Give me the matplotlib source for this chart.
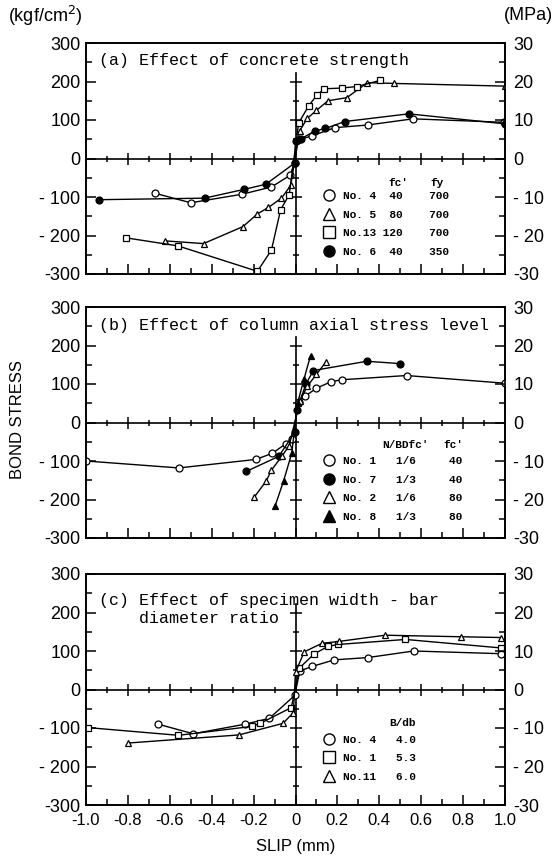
import numpy as np
import matplotlib
matplotlib.use("Agg")
import matplotlib.pyplot as plt
from matplotlib.lines import Line2D
from matplotlib.ticker import MultipleLocator

plt.rcParams['font.family'] = ['Liberation Sans', 'DejaVu Sans']
MONO = 'Liberation Mono'

# ---- (a) effect of concrete strength ----
a_no4_x = [-0.673, -0.50, -0.257, -0.115, -0.027, -0.004, 0.01, 0.08, 0.187, 0.345, 0.56, 0.995]
a_no4_y = [-90, -115, -93, -74, -44, -12, 48, 59, 80, 87, 103, 94]
a_no5_x = [-0.623, -0.439, -0.251, -0.182, -0.129, -0.067, -0.023, 0.02, 0.056, 0.10, 0.155, 0.245, 0.343, 0.47, 1.0]
a_no5_y = [-214, -221, -177, -144, -127, -103, -70, 72, 104, 125, 150, 158, 197, 195, 188]
a_no13_x = [-0.81, -0.561, -0.182, -0.115, -0.071, -0.03, 0.015, 0.063, 0.103, 0.137, 0.22, 0.294, 0.405]
a_no13_y = [-206, -227, -293, -238, -133, -94, 92, 137, 165, 181, 183, 187, 203]
a_no6_x = [-0.94, -0.434, -0.244, -0.142, -0.004, 0.0, 0.025, 0.095, 0.143, 0.235, 0.54, 1.0]
a_no6_y = [-107, -103, -80, -67, -12, 46, 51, 72, 78, 96, 116, 90]

# ---- (b) effect of column axial stress level ----
b_no1_x = [-1.0, -0.557, -0.19, -0.11, -0.046, -0.015, 0.015, 0.045, 0.10, 0.17, 0.22, 0.53, 1.0]
b_no1_y = [-100, -118, -96, -80, -55, -43, 52, 68, 89, 106, 111, 122, 102]
b_no7_x = [-0.235, -0.08, -0.003, 0.005, 0.05, 0.085, 0.34, 0.5]
b_no7_y = [-127, -88, -25, 32, 100, 135, 159, 153]
b_no2_x = [-0.197, -0.14, -0.115, -0.063, -0.03, 0.02, 0.057, 0.10, 0.145]
b_no2_y = [-194, -152, -124, -86, -60, 55, 95, 125, 157]
b_no8_x = [-0.098, -0.057, -0.018, 0.01, 0.04, 0.072]
b_no8_y = [-218, -152, -80, 50, 112, 174]

# ---- (c) effect of specimen width - bar diameter ratio ----
c_no4_x = [-0.656, -0.488, -0.24, -0.125, -0.003, 0.02, 0.08, 0.185, 0.346, 0.564, 0.98]
c_no4_y = [-90, -115, -90, -75, -15, 48, 60, 77, 83, 100, 93]
c_no1_x = [-0.99, -0.559, -0.209, -0.169, -0.02, 0.019, 0.088, 0.155, 0.204, 0.525, 0.98]
c_no1_y = [-99, -119, -96, -88, -47, 56, 92, 112, 117, 130, 108]
c_no11_x = [-0.798, -0.27, -0.06, -0.01, 0.0, 0.042, 0.127, 0.209, 0.428, 0.79, 0.98]
c_no11_y = [-139, -118, -88, -60, 45, 98, 120, 125, 141, 137, 135]

yticks = [-300, -200, -100, 0, 100, 200, 300]
ylabels = ['-300', '- 200', '- 100', '0', '100', '200', '300']
mticks = [-30, -20, -10, 0, 10, 20, 30]
mlabels = ['-30', '- 20', '- 10', '0', '10', '20', '30']
xticks = [-1.0, -0.8, -0.6, -0.4, -0.2, 0, 0.2, 0.4, 0.6, 0.8, 1.0]
xlabels = ['-1.0', '-0.8', '-0.6', '-0.4', '-0.2', '0', '0.2', '0.4', '0.6', '0.8', '1.0']

fig = plt.figure(figsize=(5.58, 8.60), dpi=100)
L, W, H = 86 / 558, 419 / 558, 231 / 860
bottoms = [586 / 860, 322 / 860, 55 / 860]


def setup(ax, xlab):
    ax.set_xlim(-1, 1)
    ax.set_ylim(-300, 300)
    for s in ax.spines.values():
        s.set_linewidth(1.2)
    ax.set_yticks(yticks)
    ax.set_yticklabels(ylabels, fontsize=13)
    ax.yaxis.set_minor_locator(MultipleLocator(50))
    ax.set_xticks(xticks)
    ax.xaxis.set_minor_locator(MultipleLocator(0.1))
    if xlab:
        ax.set_xticklabels(xlabels, fontsize=12)
    else:
        ax.set_xticklabels([])
    ax.tick_params(which='major', direction='in', length=7, width=1.1, right=False, top=False, pad=4)
    ax.tick_params(which='minor', direction='in', length=4, width=1.1, right=False, top=False)
    ax.tick_params(axis='x', pad=6)
    ax2 = ax.twinx()
    ax2.set_ylim(-30, 30)
    ax2.set_yticks(mticks)
    ax2.set_yticklabels(mlabels, fontsize=13)
    ax2.yaxis.set_minor_locator(MultipleLocator(5))
    ax2.tick_params(which='major', direction='in', length=7, width=1.1, pad=6)
    ax2.tick_params(which='minor', direction='in', length=4, width=1.1)
    for s in ax2.spines.values():
        s.set_linewidth(1.2)
    # cross-hair with ticks
    ax.axhline(0, color='k', lw=1.2, zorder=1)
    ax.axvline(0, ymax=0.87, color='k', lw=1.2, zorder=1)
    gx = np.round(np.arange(-0.9, 0.95, 0.1), 1)
    gx = gx[gx != 0]
    big = np.isclose(np.round(gx / 0.2) * 0.2, gx)
    ax.plot(gx[big], np.zeros(big.sum()), ls='none', marker='|', ms=9, mew=1.1, color='k', zorder=1)
    ax.plot(gx[~big], np.zeros((~big).sum()), ls='none', marker='|', ms=4.5, mew=1.1, color='k', zorder=1)
    gy = np.arange(-250, 201, 50)
    gy = gy[gy != 0]
    bigy = gy % 100 == 0
    ax.plot(np.zeros(bigy.sum()), gy[bigy], ls='none', marker='_', ms=9, mew=1.1, color='k', zorder=1)
    ax.plot(np.zeros((~bigy).sum()), gy[~bigy], ls='none', marker='_', ms=4.5, mew=1.1, color='k', zorder=1)
    return ax2


def series(ax, x, y, m, filled):
    ax.plot(x, y, '-', color='k', lw=1.0, marker=m, ms=5, mfc='k' if filled else 'white',
            mec='k', mew=0.9, zorder=3)


def table(ax, rows, anchor):
    hs = [Line2D([], [], ls='none', marker=m, ms=8, mfc='k' if f else 'white', mec='k', mew=1.0)
          for m, f, _ in rows]
    labs = [t for _, _, t in rows]
    ax.legend(hs, labs, loc='upper left', bbox_to_anchor=anchor, frameon=False,
              prop={'family': MONO, 'size': 8, 'weight': 'bold'}, handlelength=1.0,
              handletextpad=0.75, labelspacing=0.78, borderpad=0, borderaxespad=0)


def head(ax, x, y, s):
    ax.text(x, y, s, family=MONO, fontsize=8, weight='bold', ha='center', va='center')


axes = [fig.add_axes([L, b, W, H]) for b in bottoms]

# (a)
ax = axes[0]
setup(ax, False)
series(ax, a_no4_x, a_no4_y, 'o', False)
series(ax, a_no5_x, a_no5_y, '^', False)
series(ax, a_no13_x, a_no13_y, 's', False)
series(ax, a_no6_x, a_no6_y, 'o', True)
ax.text(0.031, 0.925, "(a) Effect of concrete strength", transform=ax.transAxes,
        family=MONO, fontsize=12, va='center')
head(ax, 0.49, -64, "fc'")
head(ax, 0.675, -64, "fy")
table(ax, [('o', False, 'No. 4  40    700'), ('^', False, 'No. 5  80    700'),
           ('s', False, 'No.13 120    700'), ('o', True, 'No. 6  40    350')], (0.567, 0.36))

# (b)
ax = axes[1]
setup(ax, False)
series(ax, b_no1_x, b_no1_y, 'o', False)
series(ax, b_no7_x, b_no7_y, 'o', True)
series(ax, b_no2_x, b_no2_y, '^', False)
series(ax, b_no8_x, b_no8_y, '^', True)
ax.text(0.031, 0.918, "(b) Effect of column axial stress level", transform=ax.transAxes,
        family=MONO, fontsize=12, va='center')
head(ax, 0.523, -58, "N/BDfc'")
head(ax, 0.752, -58, "fc'")
table(ax, [('o', False, 'No. 1   1/6     40'), ('o', True, 'No. 7   1/3     40'),
           ('^', False, 'No. 2   1/6     80'), ('^', True, 'No. 8   1/3     80')], (0.567, 0.355))

# (c)
ax = axes[2]
setup(ax, True)
series(ax, c_no4_x, c_no4_y, 'o', False)
series(ax, c_no1_x, c_no1_y, 's', False)
series(ax, c_no11_x, c_no11_y, '^', False)
ax.text(0.031, 0.919, "(c) Effect of specimen width - bar\n    diameter ratio", transform=ax.transAxes,
        family=MONO, fontsize=12, va='top', linespacing=1.25)
head(ax, 0.513, -86, "B/db")
table(ax, [('o', False, 'No. 4   4.0'), ('s', False, 'No. 1   5.3'),
           ('^', False, 'No.11   6.0')], (0.567, 0.305))
ax.set_xlabel('SLIP (mm)', fontsize=12, labelpad=8)

fig.text(8 / 558, 1 - 16 / 860, '(kgf/cm$^2$)', fontsize=13, va='center', ha='left')
fig.text(553 / 558, 1 - 16 / 860, '(MPa)', fontsize=13, va='center', ha='right')
fig.text(18 / 558, 1 - 420 / 860, 'BOND STRESS', fontsize=12, rotation=90, va='center', ha='center')

fig.savefig('out.png', dpi=100)
